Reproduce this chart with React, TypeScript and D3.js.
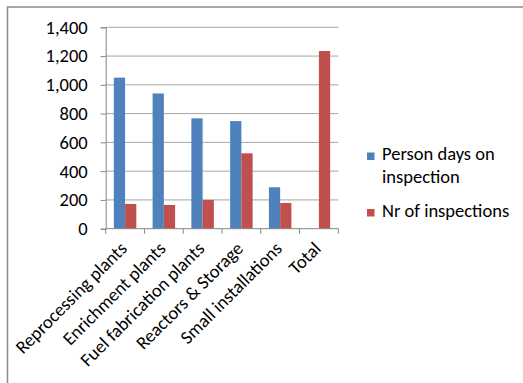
import React, { useEffect, useRef } from "react";
import * as d3 from "d3";

// chart data
const categories = [
  "Reprocessing plants",
  "Enrichment plants",
  "Fuel fabrication plants",
  "Reactors & Storage",
  "Small installations",
  "Total",
];
const seriesNames = ["Person days on inspection", "Nr of inspections"];
const personDays = [1050, 940, 767, 748, 288, 0];
const inspections = [172, 165, 200, 524, 179, 1235];
const yTicks = [0, 200, 400, 600, 800, 1000, 1200, 1400];

const colors = ["#4F81BD", "#C0504D"];
const FONT = "Carlito, Calibri, Lato, sans-serif";
const FS = "18.5px";

const App = () => {
  const ref = useRef<SVGSVGElement>(null);

  useEffect(() => {
    const svg = d3.select(ref.current);
    svg.selectAll("*").remove();

    const left = 105.7, right = 338.3, top = 27.3, bottom = 228.7;

    // outer frame
    svg.append("rect")
      .attr("x", 7.5).attr("y", 7)
      .attr("width", 530).attr("height", 400)
      .attr("fill", "#fff")
      .attr("stroke", "#8c8c8c")
      .attr("stroke-width", 1.5);

    const x = d3.scaleBand()
      .domain(categories)
      .range([left, right])
      .padding(0);

    const x1 = d3.scaleBand()
      .domain(seriesNames)
      .range([x.bandwidth() * 0.21, x.bandwidth() * 0.79])
      .padding(0);

    const y = d3.scaleLinear()
      .domain([0, 1400])
      .range([bottom, top]);

    // gridlines
    svg.append("g")
      .selectAll("line")
      .data(yTicks.filter(d => d > 0))
      .join("line")
        .attr("x1", left).attr("x2", right)
        .attr("y1", d => y(d)).attr("y2", d => y(d))
        .attr("stroke", "#a6a6a6")
        .attr("stroke-width", 1);

    // y axis
    const yAxis = svg.append("g")
      .attr("transform", `translate(${left},0)`)
      .call(d3.axisLeft(y).tickValues(yTicks).tickSize(5).tickPadding(13)
        .tickFormat(d => d3.format(",")(d as number)));
    yAxis.select(".domain").attr("stroke", "#868686");
    yAxis.selectAll(".tick line").attr("stroke", "#868686");
    yAxis.selectAll("text")
      .attr("font-family", FONT)
      .attr("font-size", FS)
      .attr("fill", "#000");

    // bars
    const rows = categories.map((c, i) => ({ cat: c, vals: [personDays[i], inspections[i]] }));
    const groups = svg.append("g")
      .selectAll("g")
      .data(rows)
      .join("g")
        .attr("transform", d => `translate(${x(d.cat)},0)`);

    groups.selectAll("rect")
      .data(d => d.vals.map((v, j) => ({ name: seriesNames[j], v, j })))
      .join("rect")
        .attr("x", d => x1(d.name)!)
        .attr("width", x1.bandwidth())
        .attr("y", d => y(d.v))
        .attr("height", d => y(0) - y(d.v))
        .attr("fill", d => colors[d.j]);

    // x axis
    const xAxis = svg.append("g")
      .attr("transform", `translate(0,${bottom})`);
    xAxis.append("line")
      .attr("x1", left).attr("x2", right)
      .attr("stroke", "#868686");
    xAxis.selectAll("line.tk")
      .data(d3.range(categories.length + 1))
      .join("line")
        .attr("class", "tk")
        .attr("x1", i => left + i * x.step())
        .attr("x2", i => left + i * x.step())
        .attr("y1", 0).attr("y2", 5)
        .attr("stroke", "#868686");
    xAxis.selectAll("text")
      .data(categories)
      .join("text")
        .attr("transform", d => `translate(${x(d)! + x.bandwidth() / 2 + 3},${21}) rotate(-45)`)
        .attr("text-anchor", "end")
        .attr("font-family", FONT)
        .attr("font-size", FS)
        .attr("fill", "#000")
        .text(d => d);

    // legend
    const legend = svg.append("g");
    const legendRows = [
      { lines: ["Person days on", "inspection"], y: 160 },
      { lines: ["Nr of inspections"], y: 216.5 },
    ];
    legendRows.forEach((r, i) => {
      legend.append("rect")
        .attr("x", 367).attr("y", r.y - 7.5)
        .attr("width", 7.5).attr("height", 7.5)
        .attr("fill", colors[i]);
      r.lines.forEach((t, k) => {
        legend.append("text")
          .attr("x", 382).attr("y", r.y + k * 22.5)
          .attr("font-family", FONT)
          .attr("font-size", FS)
          .attr("fill", "#000")
          .text(t);
      });
    });
  }, []);

  return (
    <div style={{ position: "absolute", left: 0, top: 0 }}>
      <svg ref={ref} width={523} height={383} style={{ display: "block" }} />
    </div>
  );
};

export default App;
